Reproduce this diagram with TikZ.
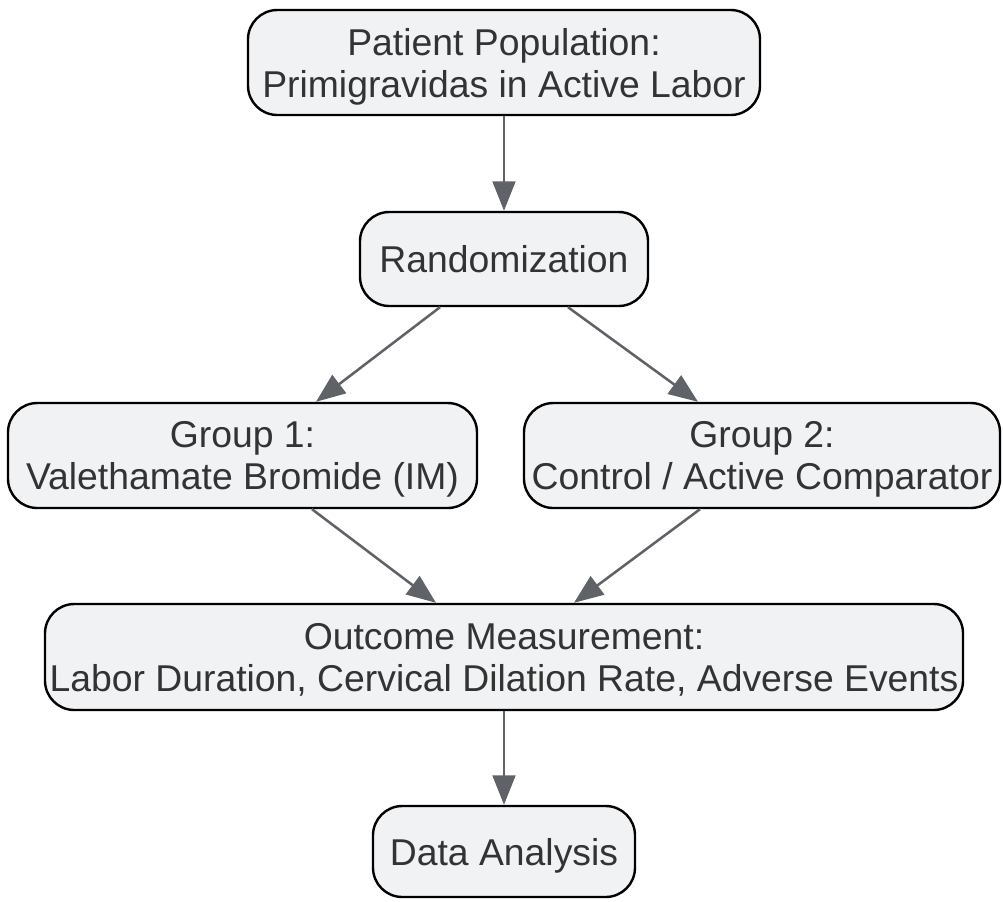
\documentclass[tikz,border=0pt]{standalone}
\usepackage{fontspec}
\setmainfont{Liberation Sans}
\usetikzlibrary{arrows.meta}
\definecolor{boxfill}{HTML}{F1F2F4}
\definecolor{arrowc}{HTML}{5F6368}
\definecolor{txt}{HTML}{333333}
\begin{document}
\begin{tikzpicture}[x=0.75pt,y=-0.75pt,
  box/.style={draw=black, line width=1.8pt, fill=boxfill, rounded corners=22pt,
    text=txt, align=center, inner sep=0pt, text depth=0pt,
    font=\fontsize{28}{31.5}\selectfont},
  conn/.style={draw=arrowc, line width=1.9pt,
    -{Triangle[length=22pt,width=17pt]}}]
\useasboundingbox (0,0) rectangle (1003,901);
\node[box, minimum width=512*0.75pt, minimum height=105*0.75pt] (pop) at (504,62.5)
  {Patient Population:\\Primigravidas in Active Labor};
\node[box, minimum width=288*0.75pt, minimum height=94*0.75pt] (rand) at (504,259)
  {Randomization};
\node[box, minimum width=469*0.75pt, minimum height=105*0.75pt] (g1) at (242.5,455.5)
  {Group 1:\\Valethamate Bromide (IM)};
\node[box, minimum width=476*0.75pt, minimum height=105*0.75pt] (g2) at (762,455.5)
  {Group 2:\\Control / Active Comparator};
\node[box, minimum width=918*0.75pt, minimum height=106*0.75pt] (out) at (504,657)
  {Outcome Measurement:\\Labor Duration, Cervical Dilation Rate, Adverse Events};
\node[box, minimum width=262*0.75pt, minimum height=91*0.75pt] (data) at (504,851.5)
  {Data Analysis};
\draw[conn] (pop.south) -- (rand.north);
\draw[conn] (rand.south -| 440,0) -- (g1.north -| 316,0);
\draw[conn] (rand.south -| 568,0) -- (g2.north -| 698,0);
\draw[conn] (g1.south -| 312,0) -- (out.north -| 436,0);
\draw[conn] (g2.south -| 700,0) -- (out.north -| 574,0);
\draw[conn] (out.south) -- (data.north);
\end{tikzpicture}
\end{document}
